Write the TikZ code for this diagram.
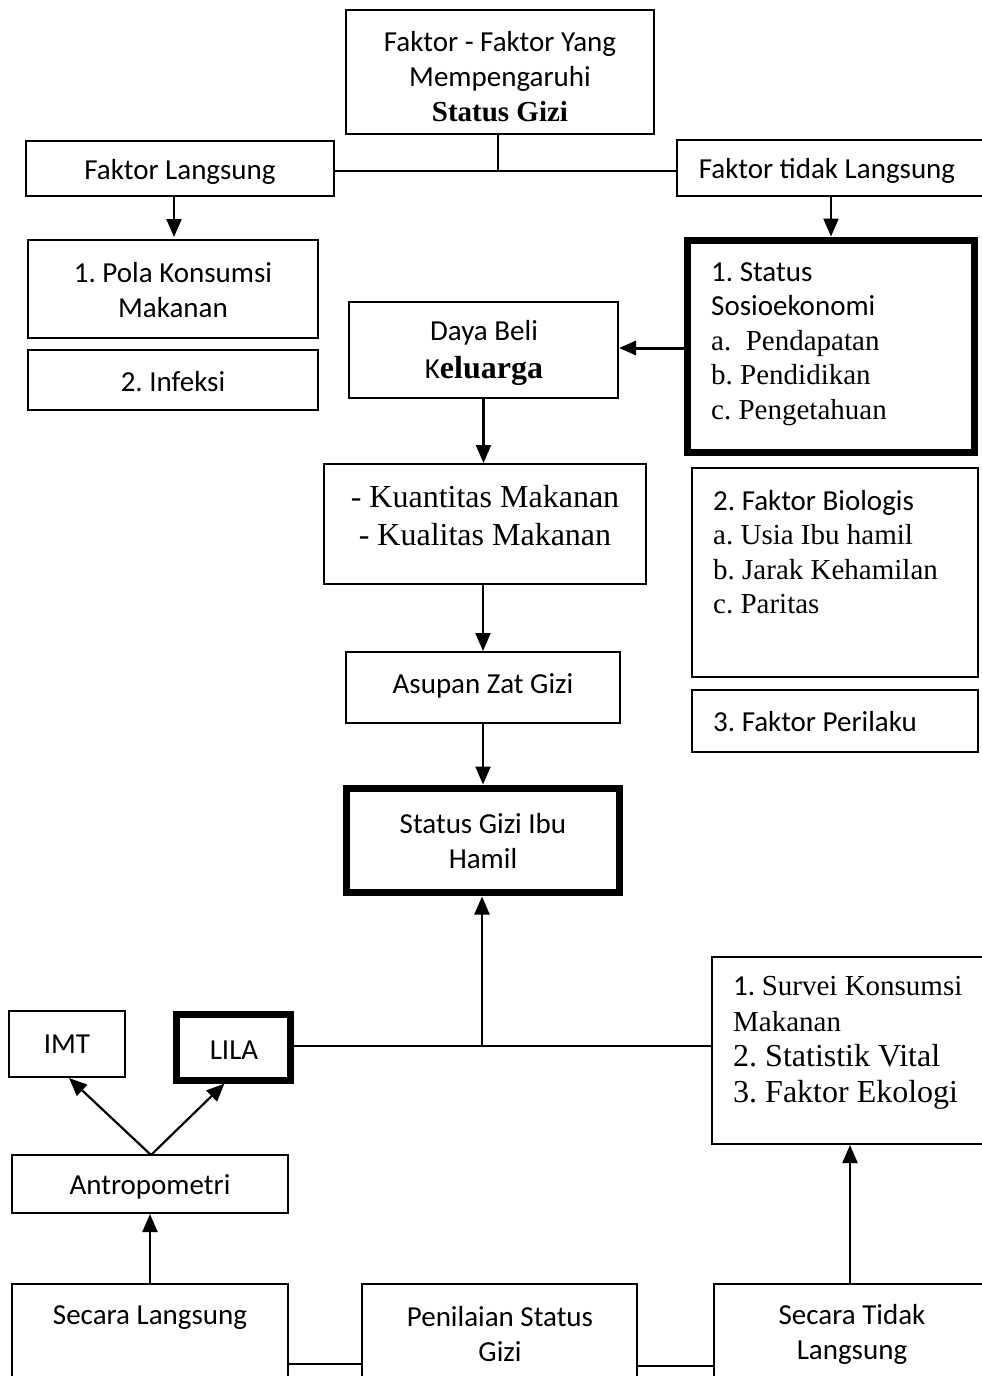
\documentclass[tikz,border=0pt]{standalone}
\usepackage{fontspec}
\setmainfont{Carlito}
\newfontfamily\tnr{Liberation Serif}
\usetikzlibrary{arrows.meta,calc}
\begin{document}
\frenchspacing
\begin{tikzpicture}[x=1pt,y=-1pt,
  box/.style={draw,line width=1.9pt,inner sep=0pt,outer sep=0pt,anchor=north west},
  heavybox/.style={draw,line width=7pt,inner sep=0pt,outer sep=0pt,anchor=north west},
  txt/.style={inner sep=0pt,font=\fontsize{29}{35}\selectfont,align=center},
  ltxt/.style={inner sep=0pt,font=\fontsize{29}{34.5}\selectfont,align=left,anchor=west},
  conn/.style={line width=2pt},
  arr/.style={line width=2.2pt,-{Triangle[length=18pt,width=15pt]}},
  harr/.style={line width=3pt,-{Triangle[length=17pt,width=14pt]}}]
\clip (0,0) rectangle (982,1376);
\fill[white] (0,0) rectangle (982,1376);
% boxes
\node[box,minimum width=308pt,minimum height=124pt] (top) at (346,10) {};
\node[box,minimum width=308pt,minimum height=55pt] (fl) at (26,141) {};
\node[box,minimum width=320pt,minimum height=56pt] (ftl) at (677,140) {};
\node[box,minimum width=290pt,minimum height=98pt] (pola) at (28,240) {};
\node[box,minimum width=290pt,minimum height=60pt] (inf) at (28,350) {};
\node[heavybox,minimum width=287pt,minimum height=212pt] (sosio) at (687.5,240.5) {};
\node[box,minimum width=269pt,minimum height=96pt] (daya) at (349,302) {};
\node[box,minimum width=322pt,minimum height=120pt] (kuan) at (324,464) {};
\node[box,minimum width=286pt,minimum height=209pt] (bio) at (692,468) {};
\node[box,minimum width=286pt,minimum height=62pt] (peri) at (692,690) {};
\node[box,minimum width=274pt,minimum height=71pt] (asup) at (346,652) {};
\node[heavybox,minimum width=273pt,minimum height=104pt] (sgih) at (346.5,788.5) {};
\node[box,minimum width=116pt,minimum height=66pt] (imt) at (9,1011) {};
\node[heavybox,minimum width=114pt,minimum height=66pt] (lila) at (176.5,1014.5) {};
\node[box,minimum width=278pt,minimum height=187pt] (surv) at (712,957) {};
\node[box,minimum width=276pt,minimum height=58pt] (antro) at (12,1155) {};
\node[box,minimum width=276pt,minimum height=110pt] (sl) at (12,1284) {};
\node[box,minimum width=275pt,minimum height=110pt] (pen) at (362,1284) {};
\node[box,minimum width=276pt,minimum height=110pt] (stl) at (714,1284) {};
% texts
\node[txt] (ttop) at (500,77) {Faktor - Faktor Yang\\Mempengaruhi\\{\tnr\bfseries Status Gizi}};
\node[txt] (tfl) at (180,172) {Faktor Langsung};
\node[txt] (tftl) at (827,171) {Faktor tidak Langsung};
\node[txt] (tpola) at (173,290) {1. Pola Konsumsi\\Makanan};
\node[txt] (tinf) at (173,382) {2. Infeksi};
\node[ltxt] (tsosio) at (711,344) {1. Status\\Sosioekonomi\\{\tnr a.\ \ Pendapatan}\\{\tnr b. Pendidikan}\\{\tnr c. Pengetahuan}};
\node[txt,font=\fontsize{29}{38}\selectfont] (tdaya) at (484,353) {Daya Beli\\K{\tnr\bfseries\fontsize{32}{38}\selectfont eluarga}};
\node[txt,font=\fontsize{32}{38}\selectfont\tnr] (tkuan) at (485,516) {- Kuantitas Makanan\\- Kualitas Makanan};
\node[ltxt] (tbio) at (713,552) {2. Faktor Biologis\\{\tnr a. Usia Ibu hamil}\\{\tnr b. Jarak Kehamilan}\\{\tnr c. Paritas}};
\node[ltxt] (tperi) at (713,722) {3. Faktor Perilaku};
\node[txt] (tasup) at (483,686) {Asupan Zat Gizi};
\node[txt] (tsgih) at (483,841) {Status Gizi Ibu\\Hamil};
\node[txt] (timt) at (67,1044) {IMT};
\node[txt] (tlila) at (234,1050) {LILA};
\node[txt] (tantro) at (150,1187) {Antropometri};
\node[ltxt,font=\fontsize{29}{35.5}\selectfont] (tsurv) at (733,1043) {1. {\tnr Survei Konsumsi}\\{\tnr Makanan}\\{\tnr\fontsize{32}{36}\selectfont 2. Statistik Vital}\\{\tnr\fontsize{32}{36}\selectfont 3. Faktor Ekologi}};
\node[txt] (tsl) at (150,1318) {Secara Langsung};
\node[txt] (tpen) at (500,1334) {Penilaian Status\\Gizi};
\node[txt] (tstl) at (852,1334) {Secara Tidak\\Langsung};
% connectors
\coordinate (jtop) at (498,171);
\draw[conn] (top.south -| jtop) -- (jtop);
\draw[conn] (fl.east |- jtop) -- (ftl.west |- jtop);
\draw[arr] ($(fl.south)+(-6,0)$) -- ($(pola.north)+(1,-3)$);
\draw[arr] (sosio.north |- ftl.south) -- ($(sosio.north)+(0,-4)$);
\coordinate (jsos) at (0,348);
\draw[harr] ($(sosio.west |- jsos)+(-3.5,0)$) -- ($(daya.east |- jsos)+(1,0)$);
\draw[arr] (daya.south) -- ($(daya.south |- kuan.north)+(0,-1)$);
\draw[arr] (asup.north |- kuan.south) -- ($(asup.north)+(0,-1)$);
\draw[arr] (asup.south) -- ($(sgih.north)+(0,-4)$);
\coordinate (jl) at (482,1046);
\draw[conn] ($(lila.east |- jl)+(3.5,0)$) -- (surv.west |- jl);
\draw[arr] (jl) -- ($(sgih.south -| jl)+(0,4)$);
\coordinate (ja) at (151,1155);
\draw[arr] (ja) -- ($(imt.south)+(2,1)$);
\draw[arr] (ja) -- ($(lila.south)+(-9,3)$);
\draw[arr] (sl.north) -- ($(antro.south)+(0,1)$);
\coordinate (jlow1) at (0,1364);
\coordinate (jlow2) at (0,1366);
\draw[conn] (sl.east |- jlow1) -- (pen.west |- jlow1);
\draw[conn] (pen.east |- jlow2) -- (stl.west |- jlow2);
\draw[arr] (stl.north -| 850,0) -- ($(surv.south -| 850,0)+(0,1)$);
\end{tikzpicture}
\end{document}
